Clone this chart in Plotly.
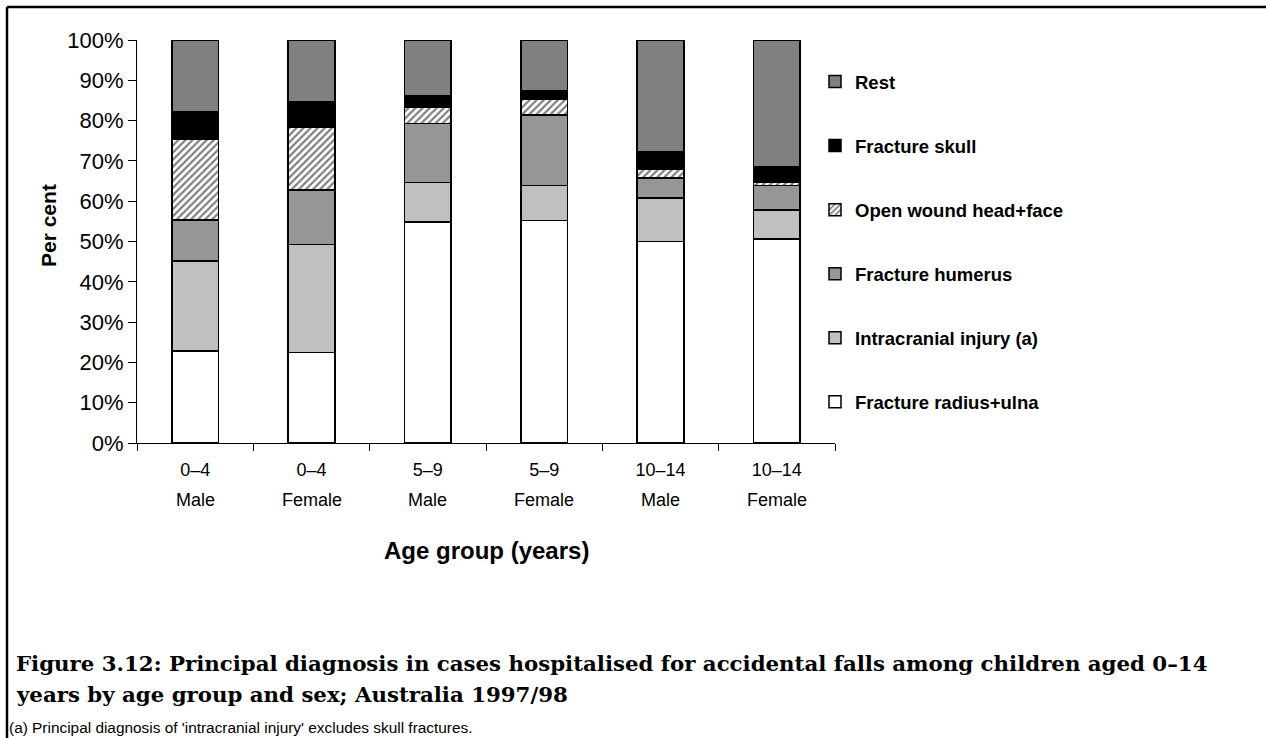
import plotly.graph_objects as go

# age group / sex categories
ages = ["0–4", "0–4", "5–9", "5–9", "10–14", "10–14"]
sexes = ["Male", "Female", "Male", "Female", "Male", "Female"]
cats = [a + " " + s for a, s in zip(ages, sexes)]

# per cent of cases (bottom to top)
radius_ulna = [22.8, 22.5, 54.8, 55.2, 50.0, 50.6]
intracranial = [22.4, 26.8, 9.8, 8.7, 10.8, 7.2]
humerus = [10.1, 13.5, 14.7, 17.5, 4.9, 6.1]
open_wound = [20.1, 15.6, 3.9, 4.0, 2.2, 0.9]
skull = [6.7, 6.4, 3.0, 1.9, 4.4, 3.8]
rest = [17.9, 15.2, 13.8, 12.7, 27.7, 31.4]

series = [
    ("Fracture radius+ulna", radius_ulna, "#ffffff", None),
    ("Intracranial injury (a)", intracranial, "#c0c0c0", None),
    ("Fracture humerus", humerus, "#969696", None),
    ("Open wound head+face", open_wound, "#ffffff", "/"),
    ("Fracture skull", skull, "#000000", None),
    ("Rest", rest, "#808080", None),
]

FONT = "Arial, Liberation Sans, sans-serif"

fig = go.Figure()
for i, (name, vals, col, pat) in enumerate(series):
    marker = dict(color=col, line=dict(color="#000000", width=1.5))
    if pat:
        marker["pattern"] = dict(shape=pat, fgcolor="#000000", bgcolor="#ffffff",
                                 size=5, solidity=0.45)
    fig.add_trace(go.Bar(x=cats, y=vals, name=name, marker=marker,
                         legendgroup=name, legendrank=len(series) - i, width=0.4))

# plot area in pixels: x 137..835, y 40..443
L, R, T, B = 137, 835, 40, 443
W, H = R - L, B - T


def px_x(p):
    return (p - L) / W


def px_y(p):
    return (B - p) / H


annotations = []
for c, s in zip(cats, sexes):
    annotations.append(dict(x=c, xref="x", y=px_y(500), yref="paper", text=s,
                            showarrow=False, yanchor="middle",
                            font=dict(family=FONT, size=18, color="#000")))

annotations += [
    dict(x=0.5, xref="paper", y=px_y(550), yref="paper", text="<b>Age group (years)</b>",
         showarrow=False, yanchor="middle", font=dict(family=FONT, size=24, color="#000")),
    dict(x=px_x(48), xref="paper", y=px_y(226), yref="paper", text="<b>Per cent</b>",
         textangle=-90, showarrow=False, xanchor="center", yanchor="middle",
         font=dict(family=FONT, size=21, color="#000")),
    dict(x=px_x(14), xref="paper", y=px_y(663), yref="paper", xanchor="left", yanchor="middle",
         text="<b>Figure 3.12: Principal diagnosis in cases hospitalised for accidental falls among children aged 0–14</b>",
         showarrow=False, font=dict(family="DejaVu Serif, serif", size=21.3, color="#000")),
    dict(x=px_x(14), xref="paper", y=px_y(694), yref="paper", xanchor="left", yanchor="middle",
         text="<b>years by age group and sex; Australia 1997/98</b>",
         showarrow=False, font=dict(family="DejaVu Serif, serif", size=21.3, color="#000")),
    dict(x=px_x(7), xref="paper", y=px_y(727), yref="paper", xanchor="left", yanchor="middle",
         text="(a) Principal diagnosis of 'intracranial injury' excludes skull fractures.",
         showarrow=False, font=dict(family=FONT, size=15.4, color="#000")),
]

# page frame: top and left rules
shapes = [
    dict(type="line", xref="paper", yref="paper", x0=px_x(7), x1=px_x(1270),
         y0=px_y(7), y1=px_y(7), line=dict(color="#000", width=2.5)),
    dict(type="line", xref="paper", yref="paper", x0=px_x(7), x1=px_x(7),
         y0=px_y(7), y1=px_y(745), line=dict(color="#000", width=2.5)),
]

fig.update_layout(
    barmode="stack",
    width=1266, height=738,
    margin=dict(l=L, r=1266 - R, t=T, b=738 - B, autoexpand=False),
    paper_bgcolor="#ffffff", plot_bgcolor="#ffffff",
    font=dict(family=FONT, color="#000"),
    showlegend=True,
    legend=dict(x=px_x(815), y=px_y(63), xanchor="left", yanchor="top",
                traceorder="grouped", tracegroupgap=37,
                font=dict(family=FONT, size=18.5, color="#000", weight="bold"),
                bgcolor="rgba(0,0,0,0)"),
    annotations=annotations,
    shapes=shapes,
)
fig.update_xaxes(type="category", tickmode="array", tickvals=cats, ticktext=ages,
                 tickson="boundaries", ticks="outside", ticklen=7, tickcolor="#000",
                 ticklabelstandoff=10,
                 showline=True, linecolor="#000", linewidth=1, showgrid=False,
                 tickfont=dict(family=FONT, size=18, color="#000"))
fig.update_yaxes(range=[0, 100], dtick=10, ticksuffix="%", ticks="outside", ticklen=8,
                 tickcolor="#000", showline=True, linecolor="#000", linewidth=1,
                 showgrid=False, zeroline=False,
                 tickfont=dict(family=FONT, size=22, color="#000"))

# drop the default page margin so the figure sits at the window origin
fig.write_html("out.html", config={"displayModeBar": False},
               post_script="document.body.style.margin='0';")
